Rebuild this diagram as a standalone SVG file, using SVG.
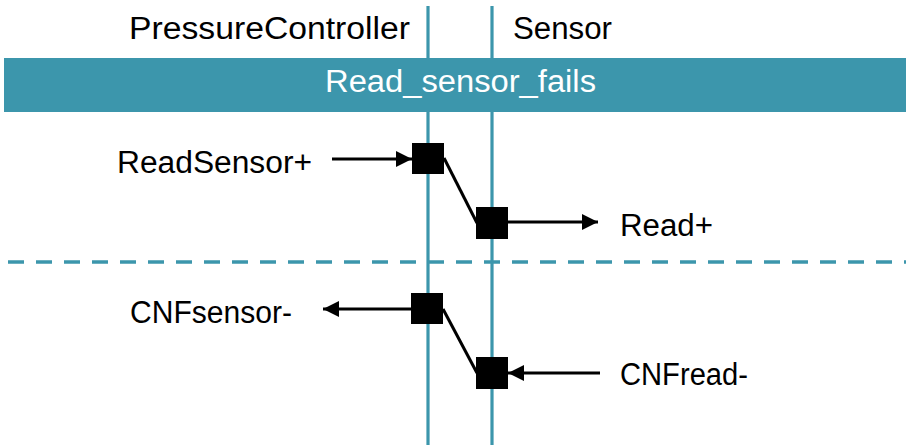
<svg xmlns="http://www.w3.org/2000/svg" width="906" height="445" viewBox="0 0 906 445">
  <style>
    .txt { font-family: "Liberation Sans", Arial, sans-serif; font-size: 31px; fill: #000; }
    .band-txt { font-family: "Liberation Sans", Arial, sans-serif; font-size: 31px; fill: #fff; }
    .life { stroke: #3C96AC; stroke-width: 3.2; fill: none; }
    .sep { stroke: #3C96AC; stroke-width: 3.5; stroke-dasharray: 16 12; fill: none; }
    .msg { stroke: #000; stroke-width: 3; fill: none; }
    .evt { fill: #000; }
  </style>
  <defs>
    <marker id="arrow" viewBox="0 0 16 16" refX="16" refY="8" markerWidth="16" markerHeight="16" markerUnits="userSpaceOnUse" orient="auto">
      <path d="M0,0 L16,8 L0,16 Z" fill="#000"/>
    </marker>
  </defs>

  <!-- lifelines -->
  <g id="lifelines">
    <line class="life" x1="428" y1="6" x2="428" y2="445"/>
    <line class="life" x1="492" y1="6" x2="492" y2="445"/>
  </g>

  <!-- participant headers -->
  <g id="pressure-controller">
    <text class="txt" x="129" y="39" textLength="281" lengthAdjust="spacingAndGlyphs">PressureController</text>
  </g>
  <g id="sensor">
    <text class="txt" x="513" y="39" textLength="99" lengthAdjust="spacingAndGlyphs">Sensor</text>
  </g>

  <!-- scenario band -->
  <g id="scenario">
    <rect x="4" y="58" width="902" height="54" fill="#3C96AC"/>
    <text class="band-txt" x="325" y="92" textLength="271" lengthAdjust="spacingAndGlyphs">Read_sensor_fails</text>
  </g>

  <!-- phase separator -->
  <line class="sep" x1="8" y1="262" x2="906" y2="262"/>

  <!-- connectors -->
  <g id="connectors">
    <line class="msg" x1="332" y1="159" x2="412" y2="159" marker-end="url(#arrow)"/>
    <line class="msg" x1="444" y1="158" x2="477" y2="223"/>
    <line class="msg" x1="508" y1="222" x2="598" y2="222" marker-end="url(#arrow)"/>
    <line class="msg" x1="411" y1="309" x2="323" y2="309" marker-end="url(#arrow)"/>
    <line class="msg" x1="443" y1="309" x2="477" y2="373"/>
    <line class="msg" x1="600" y1="373" x2="508" y2="373" marker-end="url(#arrow)"/>
  </g>

  <!-- events -->
  <g id="evt-readsensor">
    <rect class="evt" x="412" y="143" width="32" height="31"/>
  </g>
  <g id="evt-read">
    <rect class="evt" x="476" y="207" width="32" height="32"/>
  </g>
  <g id="evt-cnfsensor">
    <rect class="evt" x="411" y="293" width="32" height="31"/>
  </g>
  <g id="evt-cnfread">
    <rect class="evt" x="476" y="357" width="32" height="32"/>
  </g>

  <!-- message labels -->
  <g id="label-readsensor">
    <text class="txt" x="117" y="173" textLength="195" lengthAdjust="spacingAndGlyphs">ReadSensor+</text>
  </g>
  <g id="label-read">
    <text class="txt" x="620" y="236" textLength="93" lengthAdjust="spacingAndGlyphs">Read+</text>
  </g>
  <g id="label-cnfsensor">
    <text class="txt" x="130" y="323" textLength="162" lengthAdjust="spacingAndGlyphs">CNFsensor-</text>
  </g>
  <g id="label-cnfread">
    <text class="txt" x="620" y="385" textLength="128" lengthAdjust="spacingAndGlyphs">CNFread-</text>
  </g>
</svg>
